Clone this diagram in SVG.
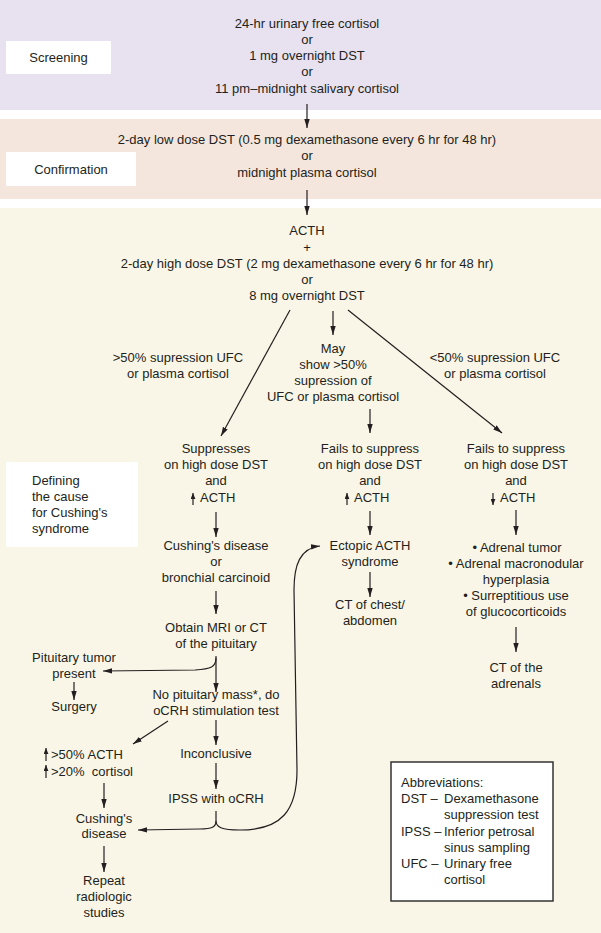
<svg xmlns="http://www.w3.org/2000/svg" width="601" height="933" viewBox="0 0 601 933">
<style>
text{font-family:"Liberation Sans",Arial,Helvetica,sans-serif;font-size:13px;fill:#231f20}
.c{text-anchor:middle}
.ln{fill:none;stroke:#231f20;stroke-width:1.2}
.box{fill:#ffffff}
</style>
<defs>
<marker id="ah" viewBox="0 0 10 6" refX="10" refY="3" markerWidth="9" markerHeight="6" markerUnits="userSpaceOnUse" orient="auto">
<path d="M0,0 L10,3 L0,6 z" fill="#231f20"/>
</marker>
<marker id="sa" viewBox="0 0 10 8" refX="10" refY="4" markerWidth="6" markerHeight="5" markerUnits="userSpaceOnUse" orient="auto">
<path d="M0,0 L10,4 L0,8 z" fill="#231f20"/>
</marker>
</defs>
<rect x="0" y="0" width="601" height="933" fill="#ffffff"/>
<rect x="0" y="0" width="601" height="110" fill="#e8e2f0"/>
<rect x="0" y="119" width="601" height="80" fill="#f4e6dc"/>
<rect x="0" y="208" width="601" height="725" fill="#faf6e7"/>

<g id="screening-label"><rect class="box" x="6" y="41" width="105" height="33"/><text class="c" x="58.5" y="62">Screening</text></g>
<g id="confirmation-label"><rect class="box" x="6" y="152" width="130" height="34"/><text class="c" x="71" y="174">Confirmation</text></g>
<g id="cause-label"><rect class="box" x="6" y="462" width="132" height="85"/>
<text x="32" y="485">Defining</text><text x="32" y="501">the cause</text><text x="32" y="517">for Cushing's</text><text x="32" y="533">syndrome</text></g>

<g id="screening-tests"><text class="c" x="307" y="28">24-hr urinary free cortisol</text><text class="c" x="307" y="44">or</text><text class="c" x="307" y="60">1 mg overnight DST</text><text class="c" x="307" y="76">or</text><text class="c" x="307" y="93">11 pm–midnight salivary cortisol</text></g>
<g id="confirmation-tests"><text class="c" x="307" y="144">2-day low dose DST (0.5 mg dexamethasone every 6 hr for 48 hr)</text><text class="c" x="307" y="160">or</text><text class="c" x="307" y="177">midnight plasma cortisol</text></g>
<g id="high-dose"><text class="c" x="307" y="235">ACTH</text><text class="c" x="307" y="252">+</text><text class="c" x="307" y="268">2-day high dose DST (2 mg dexamethasone every 6 hr for 48 hr)</text><text class="c" x="307" y="284">or</text><text class="c" x="307" y="300">8 mg overnight DST</text></g>

<g id="label-left"><text class="c" x="178" y="362">&gt;50% supression UFC</text><text class="c" x="178" y="378">or plasma cortisol</text></g>
<g id="label-mid"><text class="c" x="333" y="353">May</text><text class="c" x="333" y="369">show &gt;50%</text><text class="c" x="333" y="385">supression of</text><text class="c" x="333" y="401">UFC or plasma cortisol</text></g>
<g id="label-right"><text class="c" x="495" y="362">&lt;50% supression UFC</text><text class="c" x="495" y="378">or plasma cortisol</text></g>

<g id="suppresses"><text class="c" x="216" y="453">Suppresses</text><text class="c" x="216" y="469">on high dose DST</text><text class="c" x="216" y="485">and</text><text x="200" y="502">ACTH</text><line class="ln" x1="193" y1="505" x2="193" y2="493" marker-end="url(#sa)"/></g>
<g id="fails-mid"><text class="c" x="370" y="453">Fails to suppress</text><text class="c" x="370" y="469">on high dose DST</text><text class="c" x="370" y="485">and</text><text x="354" y="502">ACTH</text><line class="ln" x1="347" y1="505" x2="347" y2="493" marker-end="url(#sa)"/></g>
<g id="fails-right"><text class="c" x="516" y="453">Fails to suppress</text><text class="c" x="516" y="469">on high dose DST</text><text class="c" x="516" y="485">and</text><text x="500" y="502">ACTH</text><line class="ln" x1="493" y1="493" x2="493" y2="505" marker-end="url(#sa)"/></g>

<g id="cushing-or-carcinoid"><text class="c" x="216" y="550">Cushing's disease</text><text class="c" x="216" y="566">or</text><text class="c" x="216" y="582">bronchial carcinoid</text></g>
<g id="ectopic"><text class="c" x="370" y="550">Ectopic ACTH</text><text class="c" x="370" y="566">syndrome</text></g>
<g id="ct-chest"><text class="c" x="370" y="609">CT of chest/</text><text class="c" x="370" y="625">abdomen</text></g>
<g id="adrenal-causes"><text class="c" x="517" y="552">• Adrenal tumor</text><text class="c" x="516" y="568">• Adrenal macronodular</text><text class="c" x="516" y="584">hyperplasia</text><text class="c" x="516" y="600">• Surreptitious use</text><text class="c" x="516" y="616">of glucocorticoids</text></g>
<g id="ct-adrenals"><text class="c" x="516" y="672">CT of the</text><text class="c" x="516" y="688">adrenals</text></g>

<g id="mri"><text class="c" x="216" y="632">Obtain MRI or CT</text><text class="c" x="216" y="648">of the pituitary</text></g>
<g id="pit-tumor"><text class="c" x="74" y="662">Pituitary tumor</text><text class="c" x="74" y="678">present</text></g>
<g id="surgery"><text class="c" x="74" y="711">Surgery</text></g>
<g id="no-mass"><text class="c" x="216" y="699">No pituitary mass*, do</text><text class="c" x="216" y="715">oCRH stimulation test</text></g>
<g id="rise"><text x="51" y="759">&gt;50% ACTH</text><line class="ln" x1="46" y1="761" x2="46" y2="748" marker-end="url(#sa)"/><text x="51" y="776" xml:space="preserve">&gt;20%  cortisol</text><line class="ln" x1="46" y1="778" x2="46" y2="765" marker-end="url(#sa)"/></g>
<g id="inconclusive"><text class="c" x="216" y="758">Inconclusive</text></g>
<g id="ipss"><text class="c" x="216" y="803">IPSS with oCRH</text></g>
<g id="cushing-disease"><text class="c" x="104" y="823">Cushing's</text><text class="c" x="104" y="838">disease</text></g>
<g id="repeat"><text class="c" x="104" y="885">Repeat</text><text class="c" x="104" y="901">radiologic</text><text class="c" x="104" y="917">studies</text></g>

<g id="abbreviations"><rect x="391" y="762" width="162" height="139" fill="#ffffff" stroke="#333333" stroke-width="1.5"/>
<text x="401" y="787">Abbreviations:</text>
<text x="401" y="803">DST –</text><text x="444" y="803">Dexamethasone</text><text x="444" y="819">suppression test</text>
<text x="401" y="836">IPSS –</text><text x="444" y="836">Inferior petrosal</text><text x="444" y="852">sinus sampling</text>
<text x="401" y="868">UFC –</text><text x="444" y="868">Urinary free</text><text x="444" y="884">cortisol</text></g>

<g id="connectors">
<line class="ln" x1="307" y1="104" x2="307" y2="128" marker-end="url(#ah)"/>
<line class="ln" x1="307" y1="190" x2="307" y2="215" marker-end="url(#ah)"/>
<line class="ln" x1="290" y1="310" x2="221" y2="436" marker-end="url(#ah)"/>
<line class="ln" x1="333" y1="311" x2="333" y2="335" marker-end="url(#ah)"/>
<line class="ln" x1="348" y1="310" x2="502" y2="433" marker-end="url(#ah)"/>
<line class="ln" x1="370" y1="409" x2="370" y2="433" marker-end="url(#ah)"/>
<line class="ln" x1="216" y1="512" x2="216" y2="537" marker-end="url(#ah)"/>
<line class="ln" x1="370" y1="511" x2="370" y2="535" marker-end="url(#ah)"/>
<line class="ln" x1="516" y1="510" x2="516" y2="535" marker-end="url(#ah)"/>
<line class="ln" x1="370" y1="572" x2="370" y2="597" marker-end="url(#ah)"/>
<line class="ln" x1="516" y1="627" x2="516" y2="652" marker-end="url(#ah)"/>
<line class="ln" x1="216" y1="591" x2="216" y2="614" marker-end="url(#ah)"/>
<line class="ln" x1="216" y1="656" x2="216" y2="692" marker-end="url(#ah)"/>
<path class="ln" d="M216,658 C216,667 211,669 195,670 L103,671" marker-end="url(#ah)"/>
<line class="ln" x1="74" y1="682" x2="74" y2="700" marker-end="url(#ah)"/>
<line class="ln" x1="168" y1="721" x2="133" y2="744" marker-end="url(#ah)"/>
<line class="ln" x1="216" y1="720" x2="216" y2="745" marker-end="url(#ah)"/>
<line class="ln" x1="216" y1="763" x2="216" y2="789" marker-end="url(#ah)"/>
<line class="ln" x1="104" y1="783" x2="104" y2="808" marker-end="url(#ah)"/>
<line class="ln" x1="104" y1="846" x2="104" y2="872" marker-end="url(#ah)"/>
<path class="ln" d="M216,811 L216,821 C216,827 212,829 200,829 L138,830" marker-end="url(#ah)"/>
<path class="ln" d="M216,821 C216,827 221,830 240,830 C282,830 297,810 297,770 L294,590 C294,565 300,548 320,546" marker-end="url(#ah)"/>
</g>
</svg>
